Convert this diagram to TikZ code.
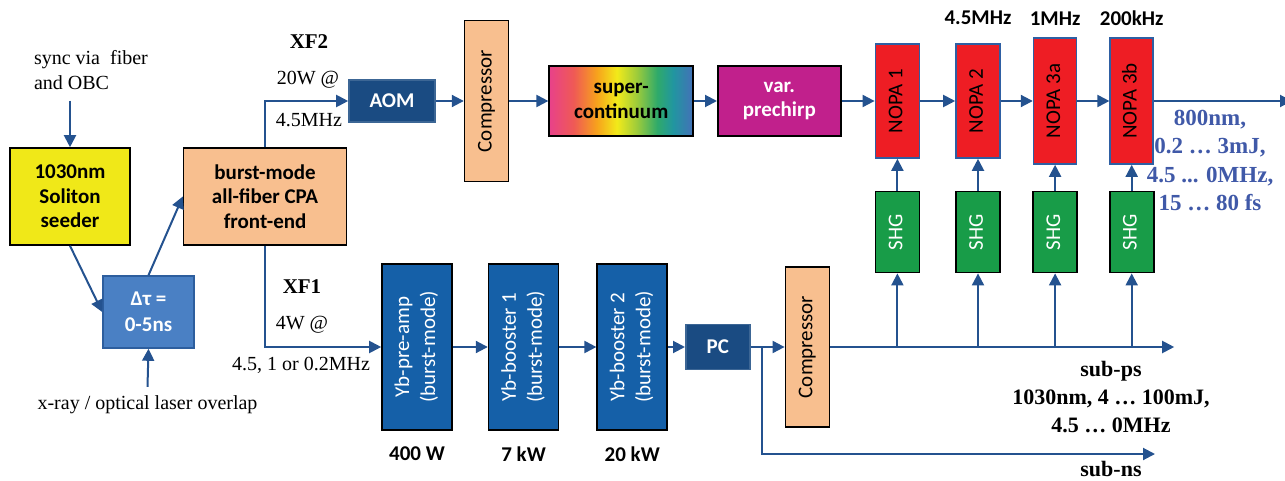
\documentclass[tikz,border=0pt]{standalone}
\usepackage{fontspec}
\setmainfont{Liberation Serif}
\newfontfamily\calibri{Carlito}
\usetikzlibrary{positioning, arrows.meta}

\definecolor{lineblue}{HTML}{24528F}
\definecolor{seedyellow}{HTML}{F0E818}
\definecolor{peach}{HTML}{F8BF8F}
\definecolor{delayblue}{HTML}{4A80C4}
\definecolor{delayedge}{HTML}{2D5E9E}
\definecolor{darkblue}{HTML}{1A4B82}
\definecolor{ybblue}{HTML}{1560A8}
\definecolor{pinkpurple}{HTML}{C1208C}
\definecolor{nopared}{HTML}{EE1D24}
\definecolor{nopaedge}{HTML}{2E5FA3}
\definecolor{shggreen}{HTML}{189C48}
\definecolor{outblue}{HTML}{4059A8}
\definecolor{sca}{HTML}{E8418A}
\definecolor{scb}{HTML}{EF5A55}
\definecolor{scc}{HTML}{F7A21C}
\definecolor{scd}{HTML}{F2EA1A}
\definecolor{sce}{HTML}{9CCB3B}
\definecolor{scf}{HTML}{2FAA6A}
\definecolor{scg}{HTML}{2196A0}
\definecolor{sch}{HTML}{4470B8}

\pgfdeclarehorizontalshading{spectrum}{100bp}{color(0bp)=(sca); color(25bp)=(sca);
  color(33.5bp)=(scb); color(41.5bp)=(scc); color(48.5bp)=(scd); color(55.5bp)=(sce);
  color(62.5bp)=(scf); color(68bp)=(scg); color(75bp)=(sch); color(100bp)=(sch)}

\newcommand{\vtext}[1]{\rotatebox{90}{\begin{tabular}{@{}c@{}}#1\end{tabular}}}
\newcommand{\boxfnt}{\calibri\fontsize{10.5}{12.25}\selectfont}

\begin{document}
\begin{tikzpicture}[
    ->,
    >={Triangle[length=6pt,width=6pt]},
    x=0.5pt, y=-0.5pt,
    line width=1pt,
    every edge/.style={draw=lineblue, line width=1pt},
    hv/.style={to path={|- (\tikztotarget)}}
]

\tikzstyle{block}=[draw=black, line width=0.8pt, inner sep=0pt, align=center, font=\boxfnt]
\tikzstyle{darkbox}=[block, draw=darkblue!85!white, fill=darkblue, text=white, font=\boxfnt\bfseries]
\tikzstyle{yb}=[block, fill=ybblue, text=white, minimum width=35pt, minimum height=83pt,
    font=\calibri\fontsize{10.5}{13}\selectfont]
\tikzstyle{comp}=[block, fill=peach, minimum width=22pt, minimum height=80.5pt]
\tikzstyle{nopa}=[block, draw=nopaedge, fill=nopared, minimum width=22pt, minimum height=57pt]
\tikzstyle{shg}=[block, fill=shggreen, text=white, minimum width=22pt, minimum height=40.5pt]
\tikzstyle{note}=[inner sep=0pt, font=\fontsize{10}{12.5}\selectfont]
\tikzstyle{xf}=[inner sep=0pt, font=\bfseries\fontsize{10.5}{12}\selectfont]
\tikzstyle{freq}=[inner sep=0pt, font=\calibri\bfseries\fontsize{10.5}{12}\selectfont]

\useasboundingbox (0,0) rectangle (1285,481);

% front end
\node[block, fill=seedyellow, minimum width=60pt, minimum height=48.5pt, font=\boxfnt\bfseries]
    (seeder) at (70,196.5) {1030nm\\Soliton\\seeder};
\node[block, fill=peach, minimum width=81.5pt, minimum height=48.5pt, font=\boxfnt\bfseries]
    (burst) [right=26pt of seeder] {burst-mode\\all-fiber CPA\\front-end};
\node[block, draw=delayedge, fill=delayblue, text=white, minimum width=45.5pt, minimum height=36pt,
    font=\calibri\bfseries\fontsize{10.5}{13}\selectfont] (dtau) at (148.5,312) {Δτ =\\0-5ns};
\node[note, anchor=west, align=left] (sync) at (33,70) {sync via~ fiber\\and OBC};
\node[note] (xray) at (147.5,405) {x-ray / optical laser overlap};

% XF2 branch
\node[darkbox, minimum width=43pt, minimum height=21pt] (AOM) at (392,101) {AOM};
\node[comp] (comp1) [right=14pt of AOM] {\vtext{Compressor}};
\node[block, shading=spectrum, minimum width=72pt, minimum height=35pt, font=\boxfnt\bfseries]
    (SC) [right=19.5pt of comp1] {super-\\continuum};
\node[block, fill=pinkpurple, text=white, minimum width=61.5pt, minimum height=35pt, font=\boxfnt\bfseries]
    (chirp) [right=11.5pt of SC] {var.\\prechirp};
\node[nopa] (NOPA1) [right=16.5pt of chirp] {\vtext{NOPA 1}};
\node[nopa] (NOPA2) [right=17.5pt of NOPA1] {\vtext{NOPA 2}};
\node[nopa, minimum width=21.5pt, minimum height=63pt] (NOPA3a) [right=16pt of NOPA2] {\vtext{NOPA 3a}};
\node[nopa, minimum width=21.5pt, minimum height=63pt] (NOPA3b) [right=16pt of NOPA3a] {\vtext{NOPA 3b}};
\node[shg] (SHG1) [below=16pt of NOPA1] {\vtext{SHG}};
\node[shg] (SHG2) at (NOPA2 |- SHG1) {\vtext{SHG}};
\node[shg] (SHG3) at (NOPA3a |- SHG1) {\vtext{SHG}};
\node[shg] (SHG4) at (NOPA3b |- SHG1) {\vtext{SHG}};
\coordinate[right=69pt of NOPA3b.east] (out);

\node[freq] (f2) [above=9pt of NOPA2] {4.5MHz};
\node[freq] (f3a) [above=5.5pt of NOPA3a] {1MHz};
\node[freq] (f3b) [above=5.5pt of NOPA3b] {200kHz};
\node[inner sep=0pt, align=center, text=outblue, font=\bfseries\fontsize{11.5}{14.25}\selectfont]
    (outtxt) at (1210,160.5) {800nm,\\0.2 … 3mJ,\\4.5 ... 0MHz,\\15 … 80 fs};

\node[xf] (xf2) at (309,42) {XF2};
\node[note] (p2) at (308,80) {20W @};
\node[note] (r2) at (309,120) {4.5MHz};

% XF1 branch
\node[yb] (ybpre) at (417,347) {\vtext{Yb-pre-amp\\(burst-mode)}};
\node[yb] (yb1) [right=17.5pt of ybpre] {\vtext{Yb-booster 1\\(burst-mode)}};
\node[yb] (yb2) [right=18.5pt of yb1] {\vtext{Yb-booster 2\\(burst-mode)}};
\node[darkbox, minimum width=32pt, minimum height=22.5pt] (PC) [right=8.5pt of yb2] {PC};
\node[comp, minimum height=80pt] (comp2) [right=17pt of PC] {\vtext{Compressor}};
\coordinate[right=5.5pt of PC.east] (tap);
\coordinate[right=172pt of comp2.east] (subps);
\coordinate (subns) at (1155,454);

\node[freq] (w1) [below=7.5pt of ybpre] {400 W};
\node[freq] (w2) [below=7.5pt of yb1] {7 kW};
\node[freq] (w3) [below=7.5pt of yb2] {20 kW};

\node[xf] (xf1) at (302,287) {XF1};
\node[note] (p1) at (302,325) {4W @};
\node[note] (r1) at (301,365) {4.5, 1 or 0.2MHz};

\node[inner sep=0pt, align=center, font=\bfseries\fontsize{11}{14}\selectfont]
    (subpstxt) at (1111,397) {sub-ps\\1030nm, 4 … 100mJ,\\4.5 … 0MHz};
\node[inner sep=0pt, font=\bfseries\fontsize{11}{14}\selectfont] (subnstxt) at (1111,469) {sub-ns};

\path
([yshift=-5pt]seeder.north |- sync.south) edge (seeder.north)
(seeder.south) edge (dtau.west)
(dtau.north) edge (burst.west)
([yshift=4pt]xray.north) edge (dtau.south)

(burst.north) edge[hv] (AOM.west)
(AOM) edge (comp1)
(comp1) edge (SC)
(SC) edge (chirp)
(chirp) edge (NOPA1)
(NOPA1) edge (NOPA2)
(NOPA2) edge (NOPA3a)
(NOPA3a) edge (NOPA3b)
(NOPA3b.east) edge (out)

(SHG1) edge (NOPA1)
(SHG2) edge (NOPA2)
(SHG3) edge (NOPA3a)
(SHG4) edge (NOPA3b)

(burst.south) edge[hv] (ybpre.west)
(ybpre) edge (yb1)
(yb1) edge (yb2)
(yb2) edge (PC)
(PC) edge (comp2)
(tap) edge[hv] (subns)
(comp2.east) edge (subps)

(NOPA1 |- comp2.east) edge (SHG1)
(NOPA2 |- comp2.east) edge (SHG2)
(NOPA3a |- comp2.east) edge (SHG3)
(NOPA3b |- comp2.east) edge (SHG4);

\end{tikzpicture}
\end{document}
